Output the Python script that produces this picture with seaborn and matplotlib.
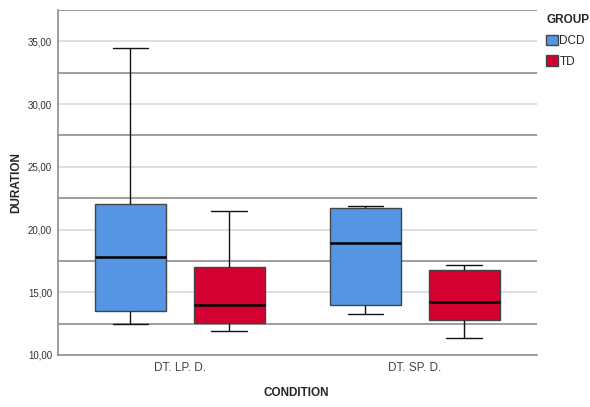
import matplotlib
matplotlib.use("Agg")
import matplotlib.pyplot as plt
import matplotlib.ticker as mticker
from matplotlib.patches import Patch
import seaborn as sns
import pandas as pd
import numpy as np

conditions = ["DT. LP. D.", "DT. SP. D."]
groups = ["DCD", "TD"]
# five-number summaries (min, Q1, median, Q3, max)
dcd_lp = [12.45, 13.5, 17.8, 22.05, 34.5]
td_lp = [11.95, 12.55, 14.0, 17.05, 21.5]
dcd_sp = [13.25, 14.0, 18.95, 21.75, 21.85]
td_sp = [11.35, 12.75, 14.2, 16.75, 17.15]
colors = {"DCD": "#5595E3", "TD": "#D40031"}

rows = []
for cond, grp, vals in [(conditions[0], "DCD", dcd_lp), (conditions[0], "TD", td_lp),
                        (conditions[1], "DCD", dcd_sp), (conditions[1], "TD", td_sp)]:
    for v in vals:
        rows.append({"CONDITION": cond, "GROUP": grp, "DURATION": v})
df = pd.DataFrame(rows)

sns.set_style("white")
plt.rcParams["font.family"] = ["Liberation Sans", "DejaVu Sans"]

fig = plt.figure(figsize=(5.9, 4.07), dpi=100)
ax = fig.add_axes([0.0975, 0.1278, 0.8125, 0.8476])

# grid lines
for y in [15, 20, 25, 30, 35]:
    ax.axhline(y, color="#d9d9d9", lw=1.2, zorder=0)
for y in [12.5, 17.5, 22.5, 27.5, 32.5, 37.5]:
    ax.axhline(y, color="#8c8c8c", lw=1.2, zorder=0)

sns.boxplot(data=df, x="CONDITION", y="DURATION", hue="GROUP", order=conditions,
            hue_order=groups, palette=colors, width=0.84, gap=0.28, whis=np.inf,
            saturation=1, linecolor="#222222", linewidth=1.0,
            medianprops={"color": "black", "linewidth": 1.8},
            boxprops={"edgecolor": "#444444"},
            whiskerprops={"color": "#111111"}, capprops={"color": "#111111"},
            ax=ax, legend=False, zorder=2)

ax.set_xlim(-0.52, 1.52)
ax.set_ylim(10, 37.5)
ax.yaxis.set_major_locator(mticker.FixedLocator([10, 15, 20, 25, 30, 35]))
ax.yaxis.set_major_formatter(mticker.FuncFormatter(lambda v, p: f"{v:.2f}".replace(".", ",")))
ax.tick_params(axis="y", length=0, labelsize=7, labelcolor="#333333", pad=4)
ax.tick_params(axis="x", length=0, labelsize=8.5, labelcolor="#444444", pad=5)

for s in ["top", "right"]:
    ax.spines[s].set_visible(False)
ax.spines["left"].set_color("#8c8c8c")
ax.spines["bottom"].set_color("#8c8c8c")
ax.spines["left"].set_linewidth(1.2)
ax.spines["bottom"].set_linewidth(1.2)

ax.set_xlabel("CONDITION", fontsize=8.5, fontweight="bold")
ax.set_ylabel("DURATION", fontsize=8.5, fontweight="bold")
ax.xaxis.set_label_coords(0.499, -0.11)
ax.yaxis.set_label_coords(-0.087, 0.5)
ax.xaxis.label.set_va("center")
ax.yaxis.label.set_va("center")

handles = [Patch(facecolor=colors[g], edgecolor="#444444", label=g) for g in groups]
leg = fig.legend(handles=handles, title="GROUP", loc="upper left",
                 bbox_to_anchor=(0.912, 0.985), frameon=False, fontsize=8.5,
                 title_fontproperties={"weight": "bold", "size": 8.5},
                 handlelength=1.0, handleheight=1.0, handletextpad=0.1,
                 labelspacing=0.7, borderpad=0.2, alignment="left")

fig.savefig("out.png", dpi=100)
